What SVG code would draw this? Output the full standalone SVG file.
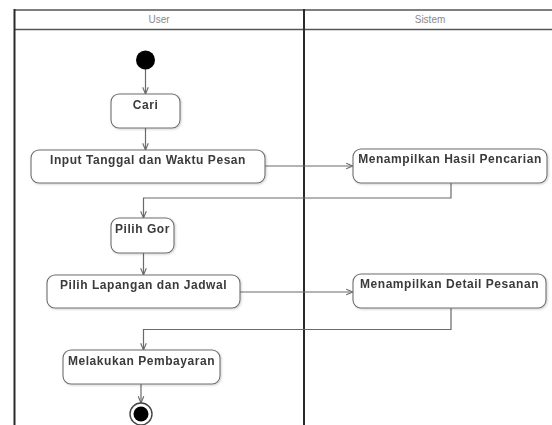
<svg xmlns="http://www.w3.org/2000/svg" width="552" height="425" viewBox="0 0 552 425">
  <style>
    .lane { fill: none; stroke: #2a2a2a; stroke-width: 2; }
    .hdr { fill: none; stroke: #555; stroke-width: 1.6; }
    .lanetitle { font-family: "Liberation Sans", Arial, sans-serif; font-size: 10px; fill: #8a8a8a; text-anchor: middle; }
    .act rect { fill: #ffffff; stroke: #6e6e6e; stroke-width: 1.1; }
    .act text { font-family: "Liberation Sans", Arial, sans-serif; font-size: 12px; font-weight: bold; letter-spacing: 0.55px; fill: #3a3a3a; text-anchor: middle; }
    .flow { fill: none; stroke: #6a6a6a; stroke-width: 1.2; marker-end: url(#open); }
  </style>
  <defs>
    <marker id="open" viewBox="0 0 10 10" refX="9.5" refY="5" markerWidth="8" markerHeight="8" markerUnits="userSpaceOnUse" orient="auto">
      <path d="M1,1.5 L9.5,5 L1,8.5" fill="none" stroke="#6a6a6a" stroke-width="1.4"/>
    </marker>
    <filter id="shadow" x="-5%" y="-10%" width="112%" height="130%">
      <feDropShadow dx="1" dy="1" stdDeviation="0.8" flood-color="#000" flood-opacity="0.18"/>
    </filter>
  </defs>

  <rect width="552" height="425" fill="#ffffff"/>

  <!-- swimlanes -->
  <g id="swimlanes">
    <line class="hdr" x1="14" y1="10" x2="552" y2="10"/>
    <line class="hdr" x1="14" y1="29.5" x2="552" y2="29.5"/>
    <line class="lane" x1="14.5" y1="9" x2="14.5" y2="425"/>
    <line class="lane" x1="304" y1="9" x2="304" y2="425" stroke-width="2.4"/>
    <text class="lanetitle" x="159" y="23">User</text>
    <text class="lanetitle" x="430" y="23">Sistem</text>
  </g>

  <!-- connectors -->
  <g id="connectors">
    <path class="flow" d="M145.5,69 L145.5,94"/>
    <path class="flow" d="M145.5,128 L145.5,150"/>
    <path class="flow" d="M265,166 L353,166"/>
    <path class="flow" d="M451,183 L451,198 L143.5,198 L143.5,218"/>
    <path class="flow" d="M143.5,253 L143.5,275"/>
    <path class="flow" d="M240,292 L353,292"/>
    <path class="flow" d="M451,308 L451,329.5 L143.5,329.5 L143.5,350"/>
    <path class="flow" d="M141,384 L141,403"/>
  </g>

  <!-- nodes -->
  <g id="start">
    <circle cx="145.5" cy="60" r="9.5" fill="#000000"/>
  </g>

  <g id="cari" class="act" filter="url(#shadow)">
    <rect x="111" y="94" width="69" height="34" rx="8"/>
    <text x="145.5" y="109">Cari</text>
  </g>

  <g id="input-tanggal" class="act" filter="url(#shadow)">
    <rect x="31" y="150" width="234" height="33" rx="8"/>
    <text x="148" y="164">Input Tanggal dan Waktu Pesan</text>
  </g>

  <g id="hasil-pencarian" class="act" filter="url(#shadow)">
    <rect x="353" y="149" width="194" height="34" rx="8"/>
    <text x="450" y="163">Menampilkan Hasil Pencarian</text>
  </g>

  <g id="pilih-gor" class="act" filter="url(#shadow)">
    <rect x="111" y="218" width="63" height="35" rx="8"/>
    <text x="142.5" y="233">Pilih Gor</text>
  </g>

  <g id="pilih-lapangan" class="act" filter="url(#shadow)">
    <rect x="47" y="275" width="193" height="33" rx="8"/>
    <text x="143.5" y="289">Pilih Lapangan dan Jadwal</text>
  </g>

  <g id="detail-pesanan" class="act" filter="url(#shadow)">
    <rect x="353" y="274" width="193" height="34" rx="8"/>
    <text x="449.5" y="288">Menampilkan Detail Pesanan</text>
  </g>

  <g id="pembayaran" class="act" filter="url(#shadow)">
    <rect x="63" y="350" width="157" height="34" rx="8"/>
    <text x="141.5" y="365">Melakukan Pembayaran</text>
  </g>

  <g id="end">
    <circle cx="141" cy="414" r="11" fill="#ffffff" stroke="#444" stroke-width="1.4"/>
    <circle cx="141" cy="414" r="7.5" fill="#000000"/>
  </g>
</svg>
